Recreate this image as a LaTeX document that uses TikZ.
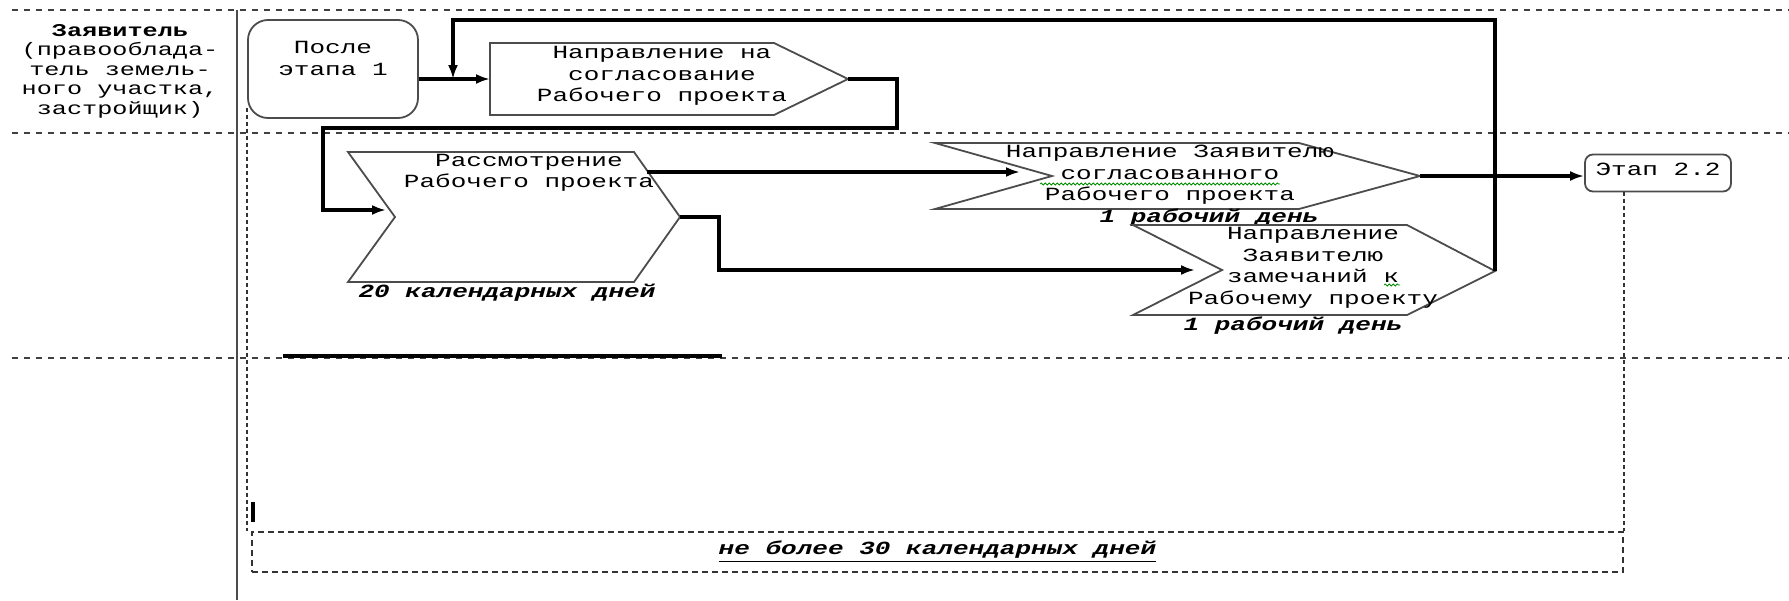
\documentclass[tikz,border=0pt]{standalone}
\usepackage{fontspec}
\setmainfont{Liberation Mono}[FakeStretch=1.4]
\usetikzlibrary{arrows.meta, decorations.pathmorphing}

\newcommand{\flowfont}{\fontsize{9.3}{10.75}\selectfont}
\newcommand{\lanefont}{\fontsize{9}{9.75}\selectfont}
\newcommand{\timefont}{\fontsize{9.3}{11}\selectfont\bfseries\itshape}

\begin{document}
\begin{tikzpicture}[
            x = 0.5pt, y = -0.5pt, % one unit is one pixel, y runs down
            > = {Latex[length=7pt, width=5pt]}, % arrow head style
            semithick % line style
        ]

        \tikzstyle{every node}=[inner sep = 0pt]
        \tikzstyle{txt}=[align = center, font = \flowfont]
        \tikzstyle{timetxt}=[font = \timefont]
        \tikzstyle{blockline}=[draw = black!70, line width = 0.9pt]
        \tikzstyle{flow}=[black, line width = 1.7pt]
        \tikzstyle{lane}=[black!75, line width = 0.7pt, dash pattern = on 3pt off 3pt]
        \tikzstyle{frame}=[black!80, line width = 1pt, dash pattern = on 2pt off 1.5pt]
        \tikzstyle{spell}=[green!55!black, line width = 0.4pt,
            decorate, decoration = {snake, amplitude = 0.5pt, segment length = 2pt}]
        \tikzstyle{startbox}=[
            draw = black!70,
            line width = 0.9pt,
            rounded corners = 10pt,
            minimum width = 85pt,
            minimum height = 49pt,
            align = center,
            font = \flowfont
        ]
        \tikzstyle{etapbox}=[
            draw = black!70,
            line width = 0.9pt,
            rounded corners = 4pt,
            minimum width = 73pt,
            minimum height = 18.5pt,
            font = \flowfont
        ]
        \tikzstyle{termbox}=[
            draw = black!80,
            line width = 0.8pt,
            dash pattern = on 3pt off 2pt,
            minimum width = 685.5pt,
            minimum height = 20pt,
            font = \timefont
        ]

        \useasboundingbox (0,0) rectangle (1789,600);

        % lanes
        \draw[lane] (12,10) -- (1789,10);
        \draw[lane] (12,133) -- (1789,133);
        \draw[lane] (12,358) -- (1789,358);
        \draw[black!70, line width = 1.2pt] (237,10) -- (237,600);

        \node[align = center, font = \lanefont] (applicant) at (120,71)
            {\textbf{Заявитель}\\(правооблада-\\тель земель-\\ного участка,\\застройщик)};

        % blocks
        \node[startbox] (start) at (333,69) {После\\этапа 1\\\mbox{}};

        \draw[blockline] (490,43) -- (774,43) -- (848,79) -- (774,115) -- (490,115) -- cycle;
        \node[txt] (nap) at (662,76) {Направление на\\согласование\\Рабочего проекта};
        \coordinate (nap-in) at (490,79);
        \coordinate (nap-out) at (848,79);
        \coordinate (join) at (453,79);

        \draw[blockline] (348,152) -- (634,152) -- (680,217) -- (634,282) -- (348,282) -- (395,217) -- cycle;
        \node[txt] (rass) at (529,173) {Рассмотрение\\Рабочего проекта};
        \node[timetxt] (rass-time) at (507,293) {20 календарных дней};
        \coordinate (rass-in) at (386,210);
        \coordinate (rass-top) at (647,172);
        \coordinate (rass-out) at (680,217);

        \draw[blockline] (935,143) -- (1299,143) -- (1420,176) -- (1299,209) -- (935,209) -- (1052,176) -- cycle;
        \node[txt] (sogl) at (1170,175) {Направление Заявителю\\согласованного\\Рабочего проекта};
        \node[timetxt] (sogl-time) at (1209,218) {1 рабочий день};
        \coordinate (sogl-in) at (1020,172);
        \coordinate (sogl-out) at (1420,176);

        \draw[blockline] (1133,225) -- (1407,225) -- (1495,271) -- (1407,315) -- (1133,315) -- (1222,270) -- cycle;
        \node[txt] (zam) at (1313,268) {Направление\\Заявителю\\замечаний к\\Рабочему проекту};
        \node[timetxt] (zam-time) at (1293,326) {1 рабочий день};
        \coordinate (zam-in) at (1195,270);
        \coordinate (zam-out) at (1495,271);

        \node[etapbox] (etap) at (1658,173) {\raisebox{3.5pt}{Этап 2.2}};
        \node[termbox] (term) at (937.5,552) {\underline{не более 30 календарных дней}};

        % spelling marks
        \draw[spell] (1040,184) -- (1280,184);
        \draw[spell] (1384,285) -- (1400,285);

        % connectors
        \draw[flow, ->] (start.east |- nap-in) -- (nap-in);
        \draw[flow, ->] (nap-out) -- ++(49,0) |- (323,128) |- (rass-in);
        \draw[flow, ->] (rass-top) -- (sogl-in);
        \draw[flow, ->] (rass-out) -- ++(39,0) |- (zam-in);
        \draw[flow, ->] (zam-out) |- (join |- 0,20) -- (join);
        \draw[flow, ->] (sogl-out) -- (sogl-out -| etap.west);

        % time frame
        \draw[frame] ([yshift=5.5pt]start.south west) -- (start.south west |- term.north);
        \draw[frame] (term.north east |- etap.south) -- (term.north east);
        \draw[black, line width = 2pt] (283,356) -- (722,356);
        \draw[black, line width = 2pt] (253,502) -- (253,522);

    \end{tikzpicture}
\end{document}
